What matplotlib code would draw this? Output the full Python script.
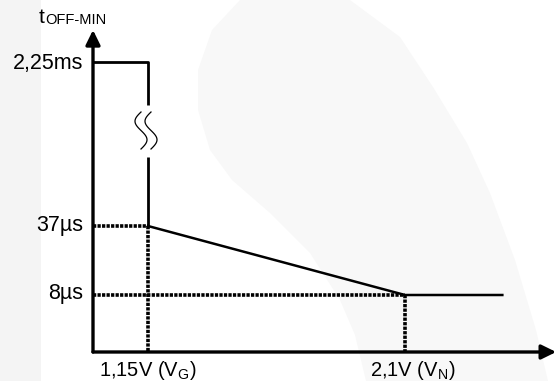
import numpy as np
import matplotlib
matplotlib.use('Agg')
import matplotlib.pyplot as plt
from matplotlib.patches import Polygon, Rectangle

plt.rcParams['font.family'] = ['Liberation Sans', 'DejaVu Sans']
plt.rcParams['mathtext.fontset'] = 'custom'
plt.rcParams['mathtext.rm'] = 'Liberation Sans'

# data
v_ticks = [1.15, 2.1]                      # V_G, V_N
v_tick_labels = [r'1,15V $\mathregular{(V_{G})}$', r'2,1V $\mathregular{(V_{N})}$']
t_levels = [2250, 37, 8]                   # us
t_level_labels = ['2,25ms', '37\u00b5s', '8\u00b5s']
curve_v = [1.15, 2.1, 2.46]
curve_t = [37, 8, 8]

# broken y scale (schematic): value -> height above x axis in px
scale_vals = [-1000, 0, 8, 37, 2250, 5000]
scale_pos = [-1000, 0, 57, 126, 290, 290 + 2750 / 3]
fwd = lambda v: np.interp(v, scale_vals, scale_pos)
inv = lambda p: np.interp(p, scale_pos, scale_vals)

W, H = 557, 381
fig = plt.figure(figsize=(W / 100, H / 100), dpi=100)

# background watermark
bg = fig.add_axes([0, 0, 1, 1], zorder=0)
bg.set_xlim(0, W)
bg.set_ylim(H, 0)
bg.axis('off')
bg.add_patch(Rectangle((0, 0), 41, H, color='#f4f4f4', lw=0))
left_edge = [(240, 0), (212, 30), (198, 70), (198, 110), (210, 150), (232, 180), (270, 213),
             (310, 253), (340, 300), (355, 335), (366, 381)]
right_edge = [(548, 381), (536, 330), (515, 260), (490, 193), (467, 143), (433, 87), (400, 37), (350, 0)]
bg.add_patch(Polygon(left_edge + right_edge, closed=True, color='#f8f8f8', lw=0))

# break marks on the vertical line
tt = np.linspace(0, 1, 60)
for c in [141, 151]:
    bg.plot(c - 6 * np.sin(2 * np.pi * tt), 112 + 37 * tt, color='black', lw=0.9)

# t_OFF-MIN label
bg.text(39, 23, 't', fontsize=15, va='baseline', ha='left')
bg.text(45, 24.5, 'OFF-MIN', fontsize=10.5, va='baseline', ha='left')

ax = fig.add_axes([0, 0, 1, 1], zorder=1)
ax.patch.set_alpha(0)
ax.set_yscale('function', functions=(fwd, inv))
ax.set_xlim(0.6029, 2.6621)
ax.set_ylim(inv(-29), inv(352))
ax.axis('off')

x0 = 0.9467        # y axis position
x_tip = 2.659
y_tip = inv(322)

arrow = dict(arrowstyle='-|>,head_length=0.55,head_width=0.27', lw=2.4, color='black',
             mutation_scale=16, shrinkA=0, shrinkB=0)
ax.annotate('', xy=(x_tip, 0), xytext=(x0, 0), arrowprops=arrow)
ax.annotate('', xy=(x0, y_tip), xytext=(x0, 0), arrowprops=arrow)

# 2.25ms step with break
ax.plot([x0, v_ticks[0], v_ticks[0]], [t_levels[0], t_levels[0], inv(247)],
        color='black', lw=2, solid_capstyle='butt')
ax.plot([v_ticks[0], v_ticks[0]], [inv(195), t_levels[1]], color='black', lw=2,
        solid_capstyle='butt')

# main curve
ax.plot(curve_v, curve_t, color='black', lw=1.8)

# dotted guides
dot = dict(color='black', lw=2.6, linestyle=(0, (0.9, 0.35)))
ax.plot([x0, v_ticks[0]], [t_levels[1], t_levels[1]], **dot)
ax.plot([v_ticks[0], v_ticks[0]], [t_levels[1], 0], **dot)
ax.plot([x0, v_ticks[1]], [t_levels[2], t_levels[2]], **dot)
ax.plot([v_ticks[1], v_ticks[1]], [t_levels[2], 0], **dot)

# y labels
y_off = [-2, 0, 1]
for lvl, lab, dy in zip(t_levels, t_level_labels, y_off):
    ax.annotate(lab, xy=(x0, lvl), xytext=(-10, dy), textcoords='offset pixels',
                ha='right', va='center', fontsize=15.5)

# x labels
x_off = [0, 8]
for v, lab, dx in zip(v_ticks, v_tick_labels, x_off):
    ax.annotate(lab, xy=(v, 0), xytext=(dx, -7), textcoords='offset pixels',
                ha='center', va='top', fontsize=14.5)

fig.savefig('out.png', dpi=100)
